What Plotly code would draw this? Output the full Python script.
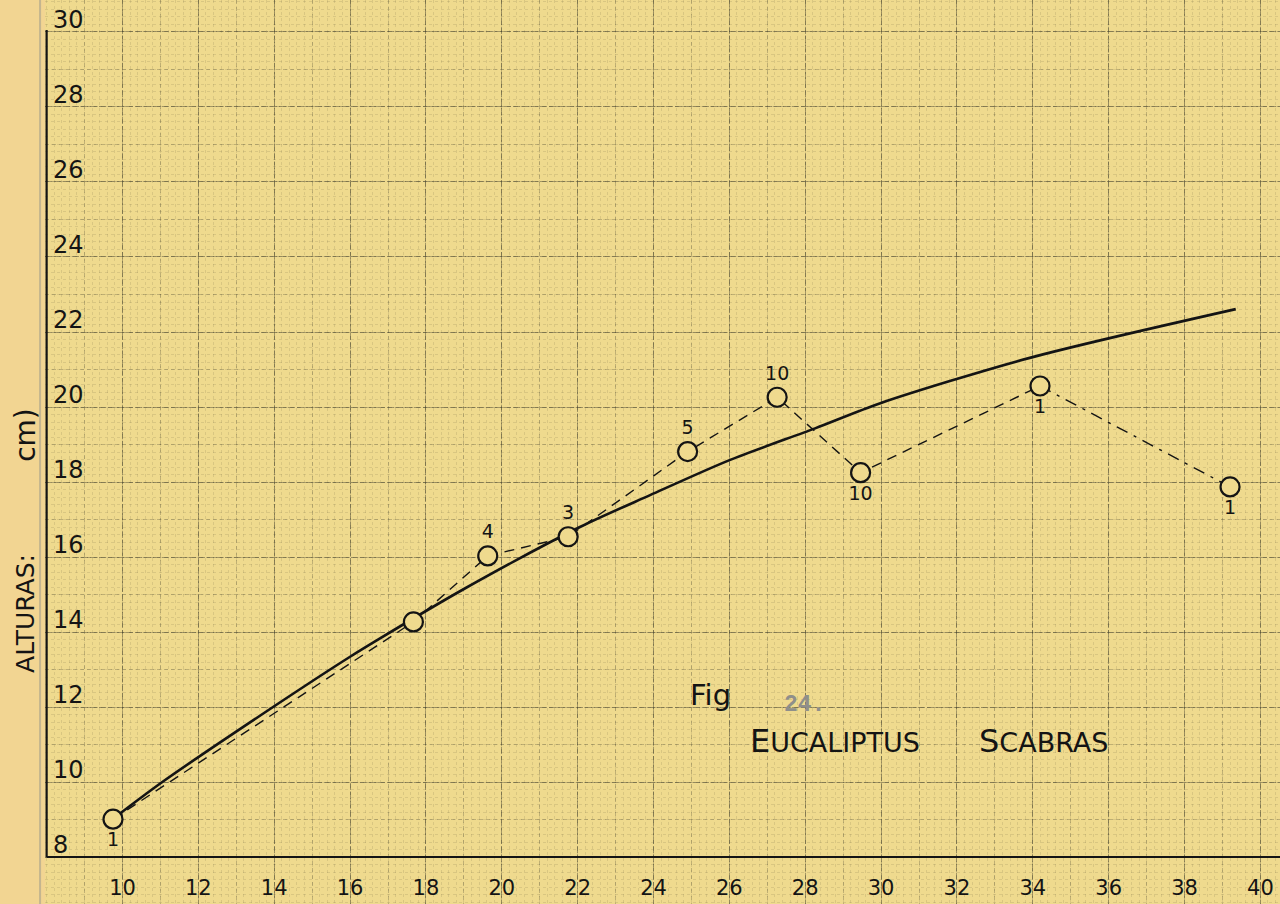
import plotly.graph_objects as go

# observed means (circles) and number of trees per class
x_obs = [9.75, 17.67, 19.63, 21.75, 24.90, 27.26, 29.46, 34.19, 39.20]
y_obs = [9.01, 14.27, 16.03, 16.54, 18.81, 20.26, 18.25, 20.56, 17.87]
n_obs = ['1', '', '4', '3', '5', '10', '10', '1', '1']

# fitted curve
curve_x = [9.74, 11.05, 13.97, 16.0, 16.79, 18.99, 22.06, 23.91, 26.02, 28.26, 29.98, 33.92, 39.35]
curve_y = [9.01, 10.0, 12.0, 13.34, 13.83, 15.14, 16.8, 17.65, 18.59, 19.43, 20.1, 21.31, 22.61]

x_ticks = list(range(10, 41, 2))
y_ticks = list(range(8, 31, 2))

label_pos = ['bottom center', 'top center', 'top center', 'top center', 'top center',
             'top center', 'bottom center', 'bottom center', 'bottom center']

paper = '#EFDA8E'
ink = '#141414'
font = 'DejaVu Sans'
xr = [7.957, 40.517]
yr = [6.747, 30.853]

fig = go.Figure()

# dummy trace so the fine-grid overlay axes get drawn
fig.add_trace(go.Scatter(x=[x_obs[0]], y=[y_obs[0]], xaxis='x2', yaxis='y2', mode='markers',
                         marker={'opacity': 0}, hoverinfo='skip', showlegend=False))

# dashed polygon between observed points
fig.add_trace(go.Scatter(x=x_obs[:-1], y=y_obs[:-1], mode='lines',
                         line={'color': ink, 'width': 1.4, 'dash': '10px,7px'}))
fig.add_trace(go.Scatter(x=x_obs[-2:], y=y_obs[-2:], mode='lines',
                         line={'color': ink, 'width': 1.4, 'dash': '12px,7px,3px,7px'}))

# fitted curve
fig.add_trace(go.Scatter(x=curve_x, y=curve_y, mode='lines', line_shape='spline',
                         line={'color': ink, 'width': 2.6, 'smoothing': 0.8}))

# circles with counts
fig.add_trace(go.Scatter(x=x_obs, y=y_obs, mode='markers+text', text=n_obs,
                         textposition=label_pos,
                         textfont={'family': font, 'size': 19, 'color': ink},
                         marker={'size': 19, 'color': paper, 'line': {'color': ink, 'width': 2.2}}))

axis_common = {
    'ticks': '',
    'zeroline': False,
    'showline': False,
    'ticklabelposition': 'inside',
    'showgrid': True,
    'gridcolor': 'rgba(55,55,40,0.42)',
    'gridwidth': 1,
    'griddash': '7px,2px',
    'minor': {'dtick': 1, 'tick0': 0, 'showgrid': True, 'gridcolor': 'rgba(55,55,40,0.26)',
              'gridwidth': 1, 'griddash': '4px,3px'},
}
fine = {
    'showgrid': True, 'dtick': 0.2, 'tick0': 0, 'gridcolor': 'rgba(70,70,50,0.13)',
    'gridwidth': 1, 'griddash': 'dot', 'showticklabels': False, 'ticks': '',
    'zeroline': False, 'showline': False,
}

fig.update_layout(
    width=1280,
    height=904,
    margin={'l': 45, 'r': 0, 't': 0, 'b': 0},
    paper_bgcolor='#F2D592',
    plot_bgcolor=paper,
    showlegend=False,
    xaxis={**axis_common, 'range': xr, 'tickvals': x_ticks, 'ticklabelstandoff': 2,
           'tickfont': {'family': font, 'size': 21, 'color': ink}},
    yaxis={**axis_common, 'range': yr, 'tickvals': y_ticks, 'ticklabelshift': -12,
           'ticklabelstandoff': 5,
           'tickfont': {'family': font, 'size': 24, 'color': ink}},
    xaxis2={**fine, 'range': xr, 'overlaying': 'x', 'anchor': 'y2'},
    yaxis2={**fine, 'range': yr, 'overlaying': 'y', 'anchor': 'x2'},
)

# axes drawn as on the sheet
fig.add_shape(type='line', x0=8, x1=8, y0=8, y1=30.05, xref='x', yref='y',
              line={'color': ink, 'width': 2.2})
fig.add_shape(type='line', x0=8, x1=40.6, y0=8, y1=8, xref='x', yref='y',
              line={'color': ink, 'width': 2.2})
fig.add_shape(type='line', x0=-0.004, x1=-0.004, y0=0, y1=1, xref='paper', yref='paper',
              line={'color': 'rgba(150,150,140,0.5)', 'width': 2})

# axis title and figure caption
fig.add_annotation(text='ALTURAS:', x=-0.0154, y=0.322, xref='paper', yref='paper',
                   xanchor='center', yanchor='middle', textangle=-90, showarrow=False,
                   font={'family': font, 'size': 25, 'color': ink})
fig.add_annotation(text='cm)', x=-0.0154, y=0.519, xref='paper', yref='paper',
                   xanchor='center', yanchor='middle', textangle=-90, showarrow=False,
                   font={'family': font, 'size': 28, 'color': ink})

fig.add_annotation(text='Fig', x=24.91, y=12.32, xanchor='left', showarrow=False,
                   font={'family': font, 'size': 29, 'color': ink})
fig.add_annotation(text='<b>24.</b>', x=27.4, y=12.05, xanchor='left', showarrow=False,
                   font={'family': 'Liberation Mono', 'size': 23, 'color': '#8f8f8a'})
small = "<span style='font-size:27px'>"
fig.add_annotation(text='E' + small + 'UCALIPTUS</span>', x=26.49, y=11.09, xanchor='left',
                   showarrow=False, font={'family': font, 'size': 32, 'color': ink})
fig.add_annotation(text='S' + small + 'CABRAS</span>', x=32.53, y=11.09, xanchor='left',
                   showarrow=False, font={'family': font, 'size': 32, 'color': ink})

fig.write_html("out.html", config={'displayModeBar': False},
               post_script="document.body.style.margin='0';")
